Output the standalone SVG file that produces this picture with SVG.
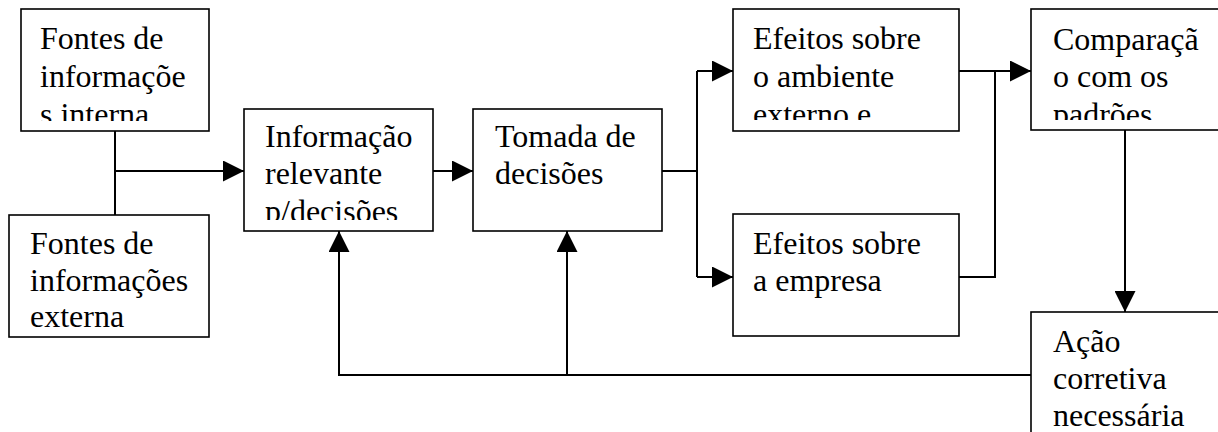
<svg xmlns="http://www.w3.org/2000/svg" width="1218" height="432" viewBox="0 0 1218 432">
<defs>
<marker id="ah" markerUnits="userSpaceOnUse" markerWidth="21" markerHeight="21" refX="21" refY="10.5" orient="auto">
<path d="M0,0 L21,10.5 L0,21 Z" fill="#000"/>
</marker>
<clipPath id="cp1"><rect x="21" y="9" width="188" height="112"/></clipPath>
<clipPath id="cp3"><rect x="244" y="109" width="189" height="111"/></clipPath>
<clipPath id="cp5"><rect x="733" y="9" width="226" height="111"/></clipPath>
<clipPath id="cp7"><rect x="1031" y="9" width="200" height="111"/></clipPath>
</defs>
<rect width="1218" height="432" fill="#fff"/>
<g id="connectors" fill="none" stroke="#000" stroke-width="2">
<path d="M115,131 V215"/>
<path d="M115,171 H244" marker-end="url(#ah)"/>
<path d="M433,171 H473" marker-end="url(#ah)"/>
<path d="M662,171 H697"/>
<path d="M697,71 V277"/>
<path d="M697,71 H733" marker-end="url(#ah)"/>
<path d="M697,277 H733" marker-end="url(#ah)"/>
<path d="M959,71 H1031" marker-end="url(#ah)"/>
<path d="M959,277 H995 V71"/>
<path d="M1125,130 V312" marker-end="url(#ah)"/>
<path d="M1031,375 H339 V231" marker-end="url(#ah)"/>
<path d="M567,375 V231" marker-end="url(#ah)"/>
</g>
<g id="nodes" fill="#fff" stroke="#000" stroke-width="1.6">
<rect x="21" y="9" width="188" height="122"/>
<rect x="9" y="215" width="200" height="122"/>
<rect x="244" y="109" width="189" height="122"/>
<rect x="473" y="109" width="189" height="122"/>
<rect x="733" y="9" width="226" height="122"/>
<rect x="733" y="214" width="226" height="122"/>
<rect x="1031" y="9" width="200" height="121"/>
<rect x="1031" y="312" width="200" height="140"/>
</g>
<g id="n1" clip-path="url(#cp1)">
<text x="40" y="49" font-family="Liberation Serif" font-size="32">Fontes de</text>
<text x="40" y="87" font-family="Liberation Serif" font-size="32">informaçõe</text>
<text x="40" y="125" font-family="Liberation Serif" font-size="32">s interna</text>
</g>
<g id="n2">
<text x="30" y="254" font-family="Liberation Serif" font-size="32">Fontes de</text>
<text x="30" y="291" font-family="Liberation Serif" font-size="32">informações</text>
<text x="30" y="327" font-family="Liberation Serif" font-size="32">externa</text>
</g>
<g id="n3" clip-path="url(#cp3)">
<text x="265" y="147" font-family="Liberation Serif" font-size="32">Informação</text>
<text x="265" y="184" font-family="Liberation Serif" font-size="32">relevante</text>
<text x="265" y="222" font-family="Liberation Serif" font-size="32">p/decisões</text>
</g>
<g id="n4">
<text x="495" y="147" font-family="Liberation Serif" font-size="32">Tomada de</text>
<text x="495" y="184" font-family="Liberation Serif" font-size="32">decisões</text>
</g>
<g id="n5" clip-path="url(#cp5)">
<text x="753" y="49" font-family="Liberation Serif" font-size="32">Efeitos sobre</text>
<text x="753" y="87" font-family="Liberation Serif" font-size="32">o ambiente</text>
<text x="753" y="125" font-family="Liberation Serif" font-size="32">externo    e</text>
</g>
<g id="n6">
<text x="753" y="254" font-family="Liberation Serif" font-size="32">Efeitos sobre</text>
<text x="753" y="291" font-family="Liberation Serif" font-size="32">a empresa</text>
</g>
<g id="n7" clip-path="url(#cp7)">
<text x="1053" y="50" font-family="Liberation Serif" font-size="32">Comparaçã</text>
<text x="1053" y="87" font-family="Liberation Serif" font-size="32">o com os</text>
<text x="1053" y="125" font-family="Liberation Serif" font-size="32">padrões</text>
</g>
<g id="n8">
<text x="1053" y="352" font-family="Liberation Serif" font-size="32">Ação</text>
<text x="1053" y="389" font-family="Liberation Serif" font-size="32">corretiva</text>
<text x="1053" y="426" font-family="Liberation Serif" font-size="32">necessária</text>
</g>
</svg>
